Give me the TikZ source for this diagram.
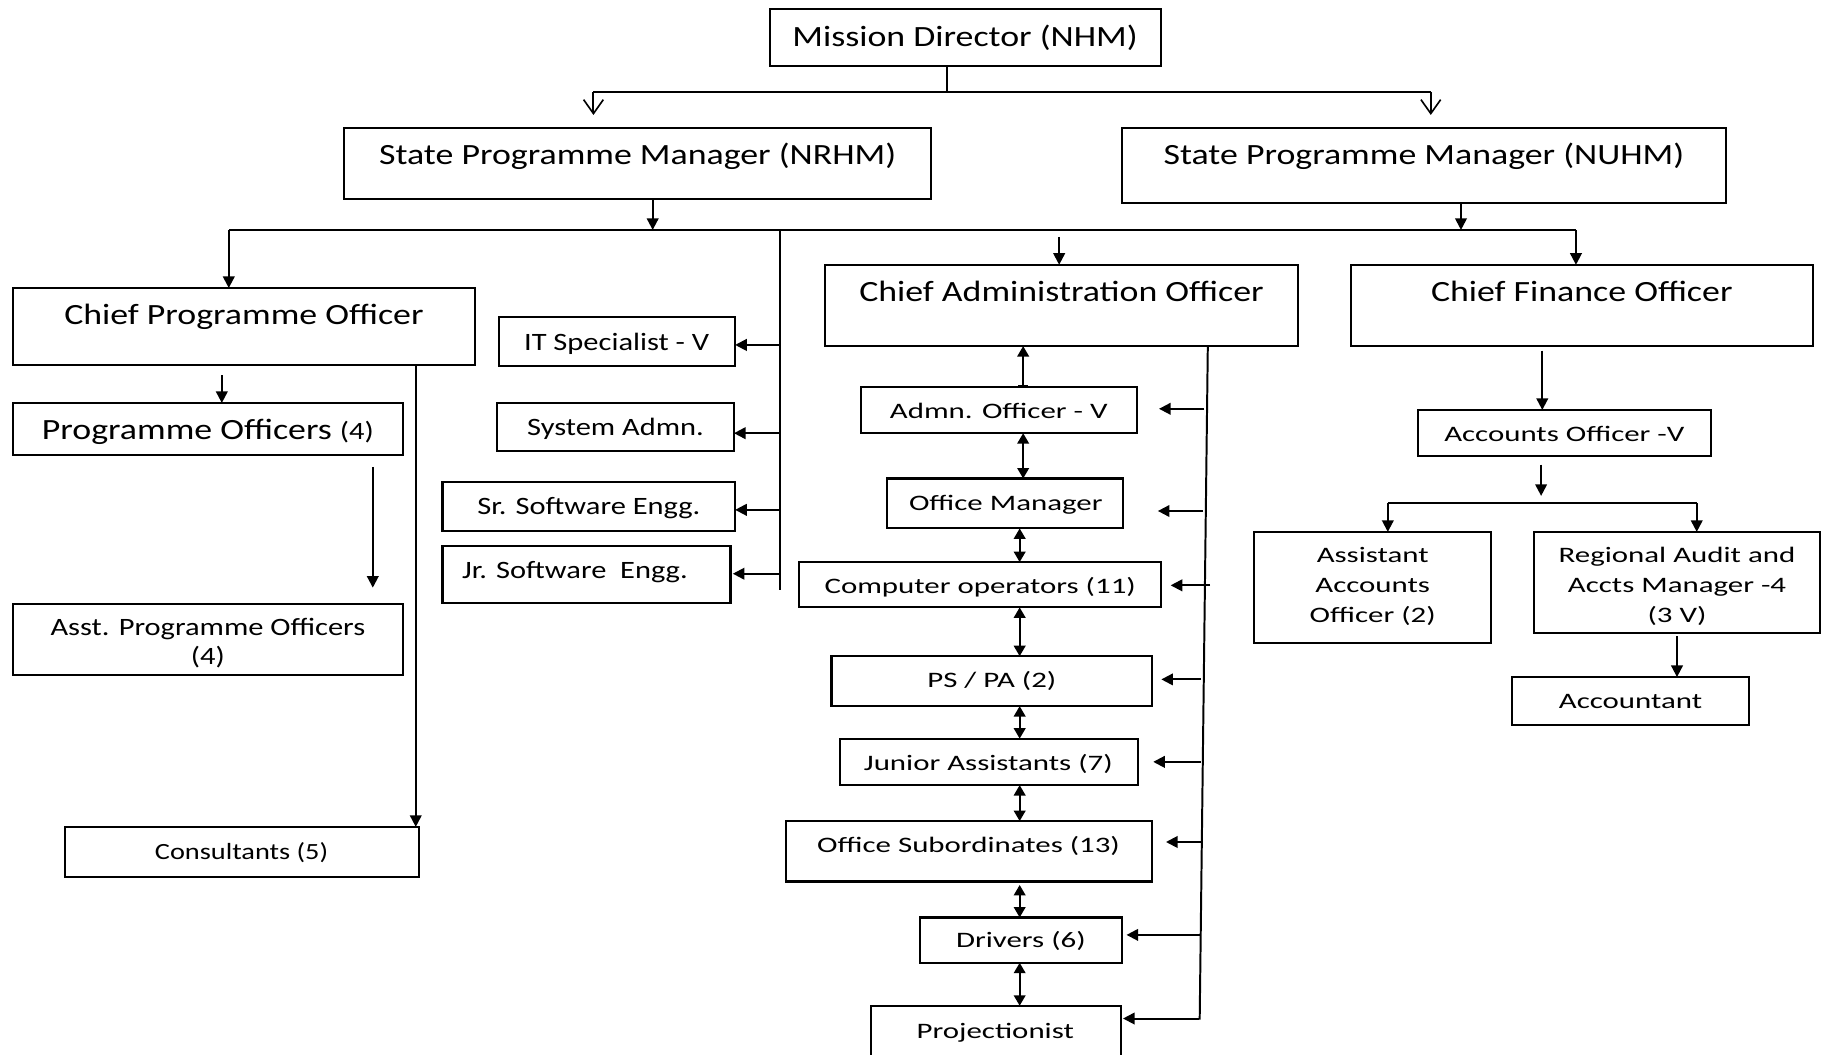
\documentclass[tikz,border=0pt]{standalone}
\usepackage{fontspec}
\setmainfont{Carlito}[FakeStretch=1.22]
\newfontfamily\wfont{Carlito}[FakeStretch=1.4]
\usetikzlibrary{arrows.meta}
\begin{document}
\begin{tikzpicture}[x=1pt,y=-1pt,
  box/.style={draw, line width=1.8pt, inner sep=0pt, outer sep=0pt},
  hdr/.style={inner sep=0pt, text height=0.75em, text depth=0.1em, yshift=-6pt, font=\fontsize{25.3}{30}\selectfont},
  sml/.style={inner sep=0pt, text height=0.75em, text depth=0.1em, yshift=-4.5pt, font=\fontsize{21.5}{25}\selectfont},
  wtx/.style={inner sep=0pt, text height=0.75em, text depth=0.1em, yshift=-4pt, font=\wfont\fontsize{19}{26}\selectfont},
  mtx/.style={inner sep=0pt, align=center},
  conn/.style={line width=1.7pt},
  arr/.style={conn, -{Triangle[length=10pt,width=10pt]}},
  darr/.style={conn, {Triangle[length=9pt,width=10pt]}-{Triangle[length=9pt,width=10pt]}},
  uarr/.style={conn, {Bar[width=9pt]}-{Triangle[length=9pt,width=10pt]}},
  varr/.style={conn, -{Straight Barb[length=12pt,width=17pt,line width=1.4pt]}}
]
\fill[white] (0,0) rectangle (1568,908);
\useasboundingbox (0,0) rectangle (1568,908);
\clip (0,0) rectangle (1568,908);

% ---------- boxes ----------
\node[box, minimum width=337pt, minimum height=49pt] (md) at (831.5,32.5) {};
\node[hdr] (mdt) at (831,31) {Mission Director (NHM)};

\node[box, minimum width=506pt, minimum height=61pt] (nrhm) at (549,140.5) {};
\node[hdr] (nrhmt) at (549,132) {State Programme Manager (NRHM)};
\node[box, minimum width=520pt, minimum height=65pt] (nuhm) at (1226,142.5) {};
\node[hdr] (nuhmt) at (1226,132) {State Programme Manager (NUHM)};

\node[box, minimum width=398pt, minimum height=66pt] (cpo) at (210,281) {};
\node[hdr] (cpot) at (210,270) {Chief Programme Officer};
\node[box, minimum width=336pt, minimum height=45pt] (po) at (179,369.5) {};
\node[hdr] (pot) at (179,369) {Programme Officers {\fontsize{21.5}{25}\selectfont(4)}};
\node[box, minimum width=336pt, minimum height=61pt] (apo) at (179,550.5) {};
\node[mtx, font=\fontsize{21.5}{25}\selectfont] (apot) at (179,554) {Asst. Programme Officers\\(4)};
\node[box, minimum width=305pt, minimum height=43pt] (cons) at (208.5,733.5) {};
\node[sml, font=\fontsize{20}{24}\selectfont] (const) at (208,732) {Consultants (5)};

\node[box, minimum width=203pt, minimum height=42pt] (it) at (531.5,294) {};
\node[sml] (itt) at (531,294) {IT Specialist - V};
\node[box, minimum width=204pt, minimum height=41pt] (sys) at (530,367.5) {};
\node[sml] (syst) at (530,367) {System Admn.};
\node[box, minimum width=252pt, minimum height=42pt] (sr) at (507,436) {};
\node[sml] (srt) at (507,435) {Sr. Software Engg.};
\node[box, minimum width=248pt, minimum height=49pt] (jr) at (505,494.5) {};
\node[sml] (jrt) at (495,490) {Jr. Software\ \ Engg.};

\node[box, minimum width=408pt, minimum height=70pt] (cao) at (914,263) {};
\node[hdr] (caot) at (914,250) {Chief Administration Officer};
\node[box, minimum width=238pt, minimum height=40pt] (admn) at (860,353) {};
\node[wtx] (admnt) at (860,353) {Admn. Officer - V};
\node[box, minimum width=203pt, minimum height=43pt] (om) at (865.5,433.5) {};
\node[wtx] (omt) at (866,432) {Office Manager};
\node[box, minimum width=312pt, minimum height=39pt] (co) at (844,503.5) {};
\node[wtx] (cot) at (844,504) {Computer operators (11)};
\node[box, minimum width=276pt, minimum height=43pt] (ps) at (854,586.5) {};
\node[wtx] (pst) at (854,585) {PS / PA (2)};
\node[box, minimum width=257pt, minimum height=40pt] (ja) at (851.5,656) {};
\node[wtx] (jat) at (851,656) {Junior Assistants (7)};
\node[box, minimum width=315pt, minimum height=52pt] (os) at (834.5,733) {};
\node[wtx] (ost) at (834,727) {Office Subordinates (13)};
\node[box, minimum width=174pt, minimum height=39pt] (drv) at (879,809.5) {};
\node[wtx] (drvt) at (879,809) {Drivers (6)};
\node[box, minimum width=215pt, minimum height=52pt] (proj) at (857.5,892) {};
\node[wtx] (projt) at (857,887) {Projectionist};

\node[box, minimum width=398pt, minimum height=70pt] (cfo) at (1362,263) {};
\node[hdr] (cfot) at (1362,250) {Chief Finance Officer};
\node[box, minimum width=252pt, minimum height=40pt] (ao) at (1347,373) {};
\node[wtx] (aot) at (1347,373) {Accounts Officer -V};
\node[box, minimum width=204pt, minimum height=96pt] (aao) at (1182,506) {};
\node[mtx, font=\wfont\fontsize{19}{26}\selectfont] (aaot) at (1182,505) {Assistant\\Accounts\\Officer (2)};
\node[box, minimum width=246pt, minimum height=87pt] (raam) at (1444,501.5) {};
\node[mtx, font=\wfont\fontsize{19}{26}\selectfont] (raamt) at (1444,505) {Regional Audit and\\Accts Manager -4\\(3 V)};
\node[box, minimum width=204pt, minimum height=41pt] (acc) at (1404,603.5) {};
\node[wtx] (acct) at (1404,603) {Accountant};

% ---------- top level ----------
\coordinate (mdj) at (815,79);
\coordinate (mdl) at (511,79);
\coordinate (mdr) at (1232,79);
\draw[conn] (md.south -| mdj) -- (mdj);
\draw[conn] (mdl) -- (mdr);
\draw[varr, shorten >=11pt] (mdl) -- (mdl |- nrhm.north);
\draw[varr, shorten >=11pt] (mdr) -- (mdr |- nuhm.north);

% ---------- main bus ----------
\coordinate (busl) at (197,198);
\coordinate (busr) at (1357,198);
\coordinate (nrj) at (562,198);
\coordinate (nuj) at (1258,198);
\coordinate (caoj) at (912,204);
\draw[conn] (busl) -- (busr);
\draw[arr] (nrhm.south -| nrj) -- (nrj);
\draw[arr] (nuhm.south -| nuj) -- (nuj);
\draw[arr] (busl) -- (busl |- cpo.north);
\draw[arr] (caoj) -- (caoj |- cao.north);
\draw[arr] (busr) -- (busr |- cfo.north);

% ---------- IT spine ----------
\coordinate (its) at (672,198);
\coordinate (ite) at (672,508);
\draw[conn] (its) -- (ite);
\coordinate (itA) at (672,297);
\coordinate (sysA) at (672,373);
\coordinate (srA) at (672,439);
\coordinate (jrA) at (672,494);
\draw[arr] (itA) -- (it.east |- itA);
\draw[arr] (sysA) -- (sys.east |- sysA);
\draw[arr] (srA) -- (sr.east |- srA);
\draw[arr, shorten >=2pt] (jrA) -- (jr.east |- jrA);

% ---------- programme column ----------
\coordinate (poA) at (191,323);
\draw[arr] (poA) -- (poA |- po.north);
\coordinate (apoA) at (321,402);
\draw[arr, shorten >=14pt] (apoA) -- (apoA |- apo.north);
\coordinate (conA) at (358,0);
\draw[arr] (cpo.south -| conA) -- (cons.north -| conA);

% ---------- admin spine ----------
\coordinate (caosT) at (1040,298);
\coordinate (caosB) at (1033,878);
\draw[conn] (caosT) -- (caosB);
\coordinate (a1) at (1037,352);
\coordinate (a2) at (1036,440);
\coordinate (a3) at (1042,504);
\coordinate (a4) at (1034,585);
\coordinate (a5) at (1034,656);
\coordinate (a6) at (1034,725);
\coordinate (a7) at (1034,805);
\coordinate (a8) at (1032,877);
\draw[arr, shorten >=19pt] (a1) -- (admn.east |- a1);
\draw[arr, shorten >=30pt] (a2) -- (om.east |- a2);
\draw[arr, shorten >=8pt] (a3) -- (co.east |- a3);
\draw[arr, shorten >=8pt] (a4) -- (ps.east |- a4);
\draw[arr, shorten >=13pt] (a5) -- (ja.east |- a5);
\draw[arr, shorten >=12pt] (a6) -- (os.east |- a6);
\draw[arr, shorten >=4pt] (a7) -- (drv.east |- a7);
\draw[arr, shorten >=2pt] (a8) -- (proj.east |- a8);

\coordinate (dx1) at (881,0);
\coordinate (dx2) at (878,0);
\draw[uarr] (admn.north -| dx1) -- (cao.south -| dx1);
\draw[darr] (admn.south -| dx1) -- (om.north -| dx1);
\draw[darr] (om.south -| dx2) -- (co.north -| dx2);
\draw[darr] (co.south -| dx2) -- (ps.north -| dx2);
\draw[darr] (ps.south -| dx2) -- (ja.north -| dx2);
\draw[darr] (ja.south -| dx2) -- (os.north -| dx2);
\draw[darr, shorten <=3pt] (os.south -| dx2) -- (drv.north -| dx2);
\draw[darr] (drv.south -| dx2) -- (proj.north -| dx2);

% ---------- finance ----------
\coordinate (aoA) at (1328,0);
\draw[arr, shorten <=4pt] (cfo.south -| aoA) -- (ao.north -| aoA);
\coordinate (finA) at (1327,0);
\coordinate (finB) at (1327,427);
\draw[arr, shorten <=7pt] (ao.south -| finA) -- (finB);
\coordinate (fbl) at (1195,433);
\coordinate (fbr) at (1461,433);
\draw[conn] (fbl) -- (fbr);
\draw[arr] (fbl) -- (fbl |- aao.north);
\draw[arr] (fbr) -- (fbr |- raam.north);
\coordinate (acA) at (1444,0);
\draw[arr, shorten <=3pt] (raam.south -| acA) -- (acc.north -| acA);
\end{tikzpicture}
\end{document}
